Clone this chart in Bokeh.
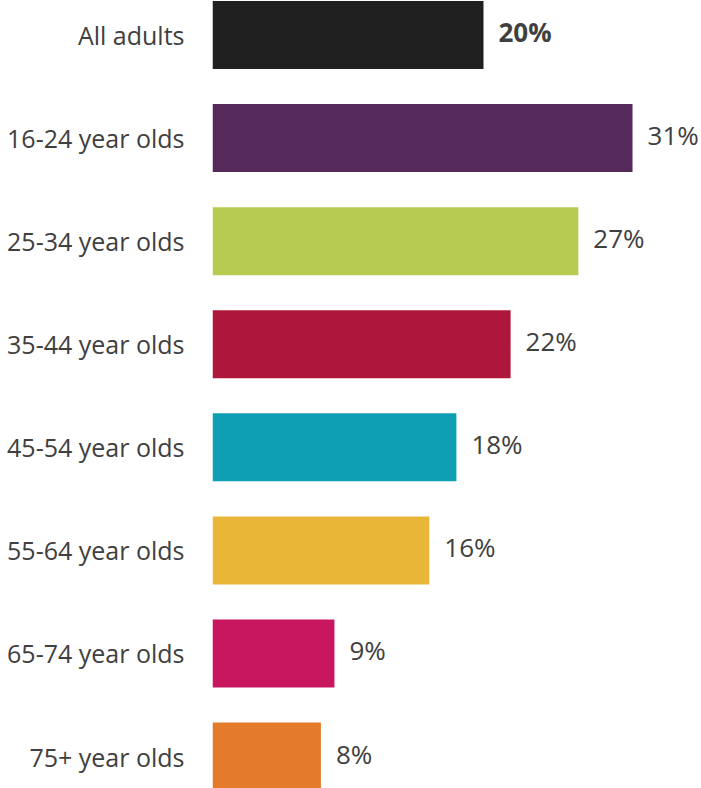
from bokeh.plotting import figure
from bokeh.models import Range1d, FixedTicker, ColumnDataSource
from bokeh.embed import file_html
from bokeh.resources import INLINE
from bokeh.core.properties import value

categories = ["All adults", "16-24 year olds", "25-34 year olds", "35-44 year olds",
              "45-54 year olds", "55-64 year olds", "65-74 year olds", "75+ year olds"]
values = [20, 31, 27, 22, 18, 16, 9, 8]
colors = ["#1f201f", "#552a5a", "#b8cb51", "#ae173b", "#0f9fb4", "#e9b638", "#c8175f", "#e37b2a"]
labels = [f"{v}%" for v in values]
weights = ["bold"] + ["normal"] * (len(values) - 1)

pos = list(range(len(categories)))
src = ColumnDataSource(dict(y=pos, v=values, c=colors, t=labels, w=weights))

p = figure(width=701, height=788, output_backend="svg", toolbar_location=None,
           x_range=Range1d(0, 36.09), y_range=Range1d(7.31, -0.335),
           min_border_left=212, min_border_right=0, min_border_top=0, min_border_bottom=0)
p.outline_line_color = None
p.grid.visible = False
p.xaxis.visible = False

p.hbar(y="y", right="v", left=0, height=0.66, color="c", source=src, line_color=None)
p.text(x="v", y="y", text="t", source=src, x_offset=15, y_offset=-3, text_baseline="middle",
       text_align="left", text_font=value("Open Sans"), text_font_size="26px",
       text_color="#404040", text_font_style="w")

ax = p.yaxis[0]
ax.ticker = FixedTicker(ticks=pos)
ax.major_label_overrides = {i: c for i, c in zip(pos, categories)}
ax.axis_line_color = None
ax.major_tick_line_color = None
ax.minor_tick_line_color = None
ax.major_tick_out = 0
ax.major_tick_in = 0
ax.major_label_standoff = 28
ax.major_label_text_font = "Open Sans"
ax.major_label_text_font_size = "25px"
ax.major_label_text_color = "#404040"

open("out.html", "w").write(file_html(p, INLINE))
